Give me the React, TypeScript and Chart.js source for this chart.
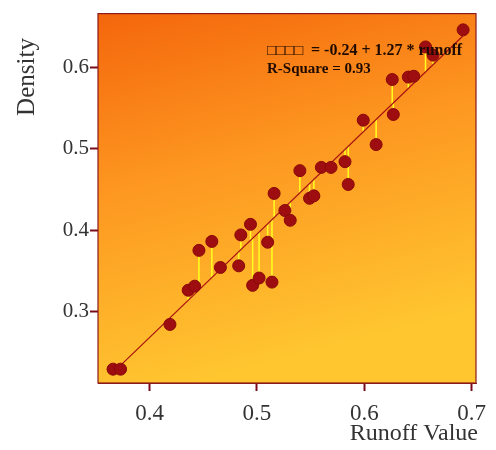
import React, { useEffect, useRef } from "react";
import { Chart, registerables } from "chart.js";

Chart.register(...registerables);

const runoff = [0.366, 0.373, 0.419, 0.436, 0.442, 0.446, 0.458, 0.466, 0.483, 0.485, 0.494, 0.496, 0.502, 0.510, 0.514, 0.516, 0.526, 0.531, 0.540, 0.549, 0.553, 0.560, 0.569, 0.582, 0.585, 0.599, 0.611, 0.626, 0.627, 0.641, 0.646, 0.657, 0.664, 0.692];
const density = [0.229, 0.229, 0.284, 0.326, 0.331, 0.375, 0.386, 0.354, 0.356, 0.394, 0.407, 0.332, 0.341, 0.385, 0.336, 0.445, 0.424, 0.412, 0.473, 0.439, 0.442, 0.477, 0.477, 0.484, 0.456, 0.535, 0.505, 0.585, 0.542, 0.588, 0.589, 0.625, 0.615, 0.646];
const fitIntercept = -0.24;
const fitSlope = 1.27;
const rSquare = 0.93;
const fitRange = [0.366, 0.692];
const xTicks = [0.4, 0.5, 0.6, 0.7];
const yTicks = [0.3, 0.4, 0.5, 0.6];
const xTitle = "Runoff Value";
const yTitle = "Density";
const eqLabel = "□□□□";

const fitAt = (x: number) => fitIntercept + fitSlope * x;

const decorPlugin = {
  id: "decor",
  beforeDatasetsDraw(chart: any) {
    const { ctx, chartArea: a, scales } = chart;
    ctx.save();
    const g = ctx.createLinearGradient(a.left, a.top, a.left + (a.right - a.left) * 0.25, a.bottom);
    g.addColorStop(0, "#F4660C");
    g.addColorStop(0.45, "#FD9620");
    g.addColorStop(1, "#FFC630");
    ctx.fillStyle = g;
    ctx.fillRect(a.left, a.top, a.right - a.left, a.bottom - a.top);
    ctx.strokeStyle = "#FFFF20";
    ctx.lineWidth = 1.5;
    runoff.forEach((x, i) => {
      const px = scales.x.getPixelForValue(x);
      ctx.beginPath();
      ctx.moveTo(px, scales.y.getPixelForValue(density[i]));
      ctx.lineTo(px, scales.y.getPixelForValue(fitAt(x)));
      ctx.stroke();
    });
    ctx.restore();
  },
  afterDatasetsDraw(chart: any) {
    const { ctx, chartArea: a } = chart;
    ctx.save();
    ctx.strokeStyle = "#8B1A1A";
    ctx.lineWidth = 1.2;
    ctx.strokeRect(a.left, a.top, a.right - a.left, a.bottom - a.top);
    ctx.fillStyle = "#1E0A00";
    ctx.textBaseline = "alphabetic";
    ctx.textAlign = "left";
    ctx.font = "bold 15px 'Liberation Serif', serif";
    ctx.fillText(eqLabel, 267, 55);
    const sign = fitIntercept < 0 ? "-" : "";
    ctx.font = "bold 16px 'Liberation Serif', serif";
    ctx.fillText(`= ${sign}${Math.abs(fitIntercept).toFixed(2)} + ${fitSlope.toFixed(2)} * runoff`, 311, 55);
    ctx.font = "bold 15px 'Liberation Serif', serif";
    ctx.fillText(`R-Square = ${rSquare.toFixed(2)}`, 267, 73);
    ctx.fillStyle = "#333333";
    ctx.font = "24px 'Liberation Serif', serif";
    ctx.textAlign = "right";
    ctx.textBaseline = "middle";
    ctx.fillText(xTitle, 478, 434);
    ctx.translate(27, 77);
    ctx.rotate(-Math.PI / 2);
    ctx.textAlign = "center";
    ctx.font = "25px 'Liberation Serif', serif";
    ctx.fillText(yTitle, 0, 0);
    ctx.restore();
  },
};

export default function App() {
  const ref = useRef<HTMLCanvasElement>(null);
  useEffect(() => {
    if (!ref.current) return;
    const chart = new Chart(ref.current, {
      type: "scatter",
      data: {
        datasets: [
          {
            type: "scatter",
            data: runoff.map((x, i) => ({ x, y: density[i] })),
            pointRadius: 6,
            pointBackgroundColor: "#9E0E10",
            pointBorderColor: "#880808",
            pointBorderWidth: 1,
            order: 1,
          } as any,
          {
            type: "line",
            data: fitRange.map((x) => ({ x, y: fitAt(x) })),
            borderColor: "#A81212",
            borderWidth: 1.2,
            pointRadius: 0,
            showLine: true,
            fill: false,
            order: 2,
          } as any,
        ],
      },
      options: {
        responsive: false,
        animation: false,
        layout: { padding: { left: 0, right: 20, top: 5, bottom: 0 } },
        plugins: { legend: { display: false }, tooltip: { enabled: false } },
        scales: {
          x: {
            type: "linear",
            min: 0.352,
            max: 0.704,
            afterBuildTicks: (s: any) => { s.ticks = xTicks.map((v) => ({ value: v })); },
            afterFit: (s: any) => { s.height = 67; },
            ticks: {
              callback: (v: any) => Number(v).toFixed(1),
              font: { family: "'Liberation Serif', serif", size: 23 },
              color: "#333333",
              padding: 9,
              maxRotation: 0,
            },
            grid: { drawOnChartArea: false, tickLength: 8, tickColor: "#7A0A1A", tickWidth: 2 },
            border: { color: "#8B1A1A", width: 1 },
          },
          y: {
            type: "linear",
            min: 0.212,
            max: 0.666,
            afterBuildTicks: (s: any) => { s.ticks = yTicks.map((v) => ({ value: v })); },
            afterFit: (s: any) => { s.width = 98; },
            ticks: {
              callback: (v: any) => Number(v).toFixed(1),
              font: { family: "'Liberation Serif', serif", size: 21 },
              color: "#333333",
              padding: 1,
            },
            grid: { drawOnChartArea: false, tickLength: 8, tickColor: "#7A0A1A", tickWidth: 2 },
            border: { color: "#8B1A1A", width: 1 },
          },
        },
      },
      plugins: [decorPlugin],
    });
    return () => chart.destroy();
  }, []);
  return (
    <div style={{ position: "fixed", left: 0, top: 0, width: 496, height: 450, background: "#fff" }}>
      <canvas ref={ref} width={496} height={450} />
    </div>
  );
}
